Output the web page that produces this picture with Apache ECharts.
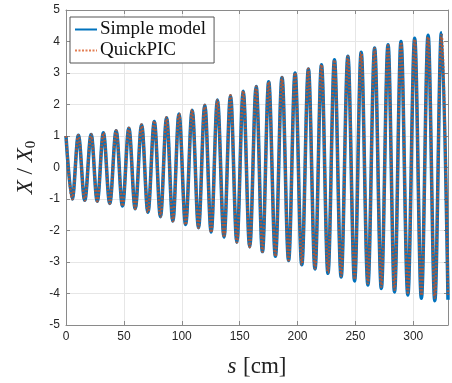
<!DOCTYPE html>
<html><head><meta charset="utf-8">
<script src="https://cdn.jsdelivr.net/npm/echarts@6/dist/echarts.min.js"></script>
<style>html,body{margin:0;padding:0;background:#fff}#c{width:452px;height:383px}</style>
</head><body><div id="c"></div>
<script>
// Extrema (s in cm)
const peakS   = [0,10.7,21.7,32.3,43.3,54.3,65.3,76.3,86.9,97.6,109.0,119.9,130.8,142.1,153.1,164.3,175.1,186.6,197.9,209.4,220.7,231.9,243.5,255.0,266.6,278.2,289.4,301.2,312.8,324.3];
const troughS = [5.4,16.2,27.0,37.8,48.8,59.8,70.8,81.6,92.3,103.3,114.5,125.4,136.5,147.6,158.7,169.7,180.9,192.3,203.7,215.1,226.3,237.7,249.3,260.8,272.4,283.8,295.3,307.0,318.6,330.0];
const simplePeaks   = [1.0,1.02,1.05,1.1,1.17,1.25,1.35,1.46,1.58,1.7,1.82,1.98,2.14,2.28,2.42,2.57,2.72,2.86,3.0,3.13,3.26,3.42,3.53,3.66,3.79,3.9,4.0,4.1,4.2,4.28];
const simpleTroughs = [-1.0,-1.04,-1.07,-1.14,-1.22,-1.31,-1.42,-1.56,-1.7,-1.81,-1.91,-2.05,-2.21,-2.37,-2.52,-2.67,-2.82,-2.95,-3.09,-3.22,-3.36,-3.48,-3.6,-3.73,-3.84,-3.95,-4.05,-4.15,-4.23,-4.2];
const quickPeaks    = [1.0,1.02,1.05,1.1,1.17,1.25,1.36,1.47,1.59,1.71,1.83,1.98,2.14,2.29,2.43,2.57,2.72,2.86,3.0,3.13,3.26,3.41,3.52,3.64,3.77,3.87,3.97,4.06,4.14,4.2];
const quickTroughs  = [-1.0,-1.04,-1.07,-1.14,-1.22,-1.31,-1.42,-1.56,-1.7,-1.81,-1.91,-2.05,-2.21,-2.37,-2.52,-2.67,-2.82,-2.94,-3.07,-3.2,-3.33,-3.44,-3.55,-3.67,-3.78,-3.88,-3.97,-4.06,-4.13,-4.05];
const xTicks = [0,50,100,150,200,250,300];
const yTicks = [-5,-4,-3,-2,-1,0,1,2,3,4,5];

function merge(ps, pv, ts, tv){
  const out = [];
  for (let i = 0; i < ps.length; i++){
    out.push([ps[i], pv[i]]);
    if (i < ts.length) out.push([ts[i], tv[i]]);
  }
  return out;
}
const simpleData = merge(peakS, simplePeaks, troughS, simpleTroughs);
const quickData  = merge(peakS, quickPeaks, troughS, quickTroughs);

const axisCol = '#262626';
const grid = {left:66, right:4, top:10, bottom:52};
const chart = echarts.init(document.getElementById('c'), null, {renderer:'canvas'});
const baseX = {type:'value', min:0, max:330, interval:50,
  axisLine:{show:true, onZero:false, lineStyle:{color:'#8a8a8a', width:1}},
  axisTick:{show:true, inside:true, length:4, lineStyle:{color:'#8a8a8a'}},
  splitLine:{show:false}};
const baseY = {type:'value', min:-5, max:5, interval:1,
  axisLine:{show:true, onZero:false, lineStyle:{color:'#8a8a8a', width:1}},
  axisTick:{show:true, inside:true, length:4, lineStyle:{color:'#8a8a8a'}},
  splitLine:{show:false}};
chart.setOption({
  animation:false,
  backgroundColor:'#fff',
  grid: grid,
  legend:{
    left:70, top:17, orient:'vertical', itemWidth:22, itemHeight:10, itemGap:2,
    padding:[3,8,3,4],
    backgroundColor:'#fff', borderColor:'#555', borderWidth:1, borderRadius:0,
    itemStyle:{opacity:0},
    textStyle:{fontFamily:'Liberation Serif', fontSize:19, color:'#111', padding:[0,0,0,-2]},
    data:[{name:'Simple model'},{name:'QuickPIC'}]
  },
  xAxis:[
    Object.assign({}, baseX, {position:'bottom',
      axisLabel:{show:true, color:axisCol, fontSize:12, fontFamily:'Liberation Sans', margin:6,
        formatter:v => xTicks.indexOf(v) >= 0 ? String(v) : ''},
      splitLine:{show:true, lineStyle:{color:'#e6e6e6', width:1}},
      name:'{i|s}  {n|[cm]}', nameLocation:'middle', nameGap:30,
      nameTextStyle:{rich:{i:{fontFamily:'Liberation Serif', fontStyle:'italic', fontSize:23, color:'#222'},
                           n:{fontFamily:'Liberation Serif', fontSize:23, color:'#222'}}}}),
    Object.assign({}, baseX, {position:'top', axisLabel:{show:false}})
  ],
  yAxis:[
    Object.assign({}, baseY, {position:'left',
      axisLabel:{show:true, color:axisCol, fontSize:12, fontFamily:'Liberation Sans', margin:6,
        formatter:v => yTicks.indexOf(v) >= 0 ? String(v) : ''},
      splitLine:{show:true, lineStyle:{color:'#e6e6e6', width:1}},
      name:'{i|X}{n| / }{i|X}{s|0}', nameLocation:'middle', nameGap:24,
      nameTextStyle:{rich:{i:{fontFamily:'Liberation Serif', fontStyle:'italic', fontSize:23, color:'#222'},
                           n:{fontFamily:'Liberation Serif', fontSize:23, color:'#222'},
                           s:{fontFamily:'Liberation Serif', fontSize:15, color:'#222', padding:[10,0,0,0]}}}}),
    Object.assign({}, baseY, {position:'right', axisLabel:{show:false}})
  ],
  series:[
    {name:'Simple model', type:'line', data:simpleData, showSymbol:false, symbol:'none',
     smooth:0.36, smoothMonotone:'x', xAxisIndex:0, yAxisIndex:0,
     lineStyle:{color:'#0072BD', width:3.5}, itemStyle:{color:'#0072BD'}},
    {name:'QuickPIC', type:'line', data:quickData, showSymbol:false, symbol:'none',
     smooth:0.36, smoothMonotone:'x', xAxisIndex:0, yAxisIndex:0,
     lineStyle:{color:'#D95319', width:2.8, type:[2,1.5], opacity:0.75}, itemStyle:{color:'#D95319'}}
  ]
});
</script>
</body></html>
